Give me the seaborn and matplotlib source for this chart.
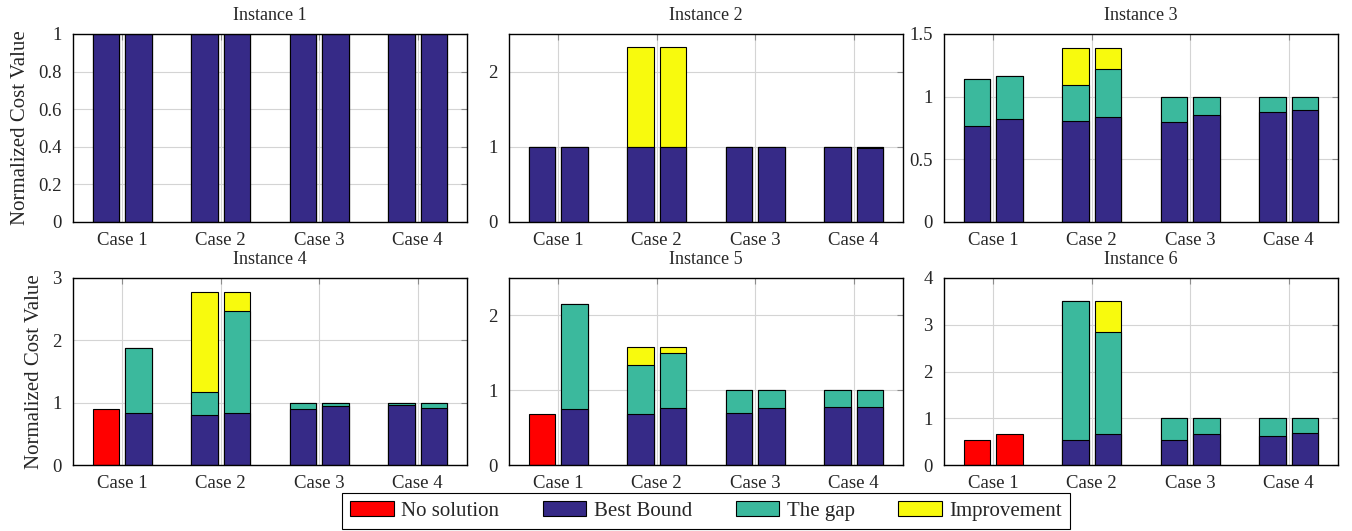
import numpy as np
import pandas as pd
import matplotlib
matplotlib.use("Agg")
import matplotlib.pyplot as plt
from matplotlib.patches import Patch
from matplotlib.ticker import FuncFormatter, MultipleLocator
import seaborn as sns

cases = ["Case 1", "Case 2", "Case 3", "Case 4"]
runs = ["first", "second"]
instances = ["Instance 1", "Instance 2", "Instance 3", "Instance 4", "Instance 5", "Instance 6"]

# one row per instance, values ordered case1/first, case1/second, case2/first, ...
no_solution = [
    [0, 0, 0, 0, 0, 0, 0, 0],
    [0, 0, 0, 0, 0, 0, 0, 0],
    [0, 0, 0, 0, 0, 0, 0, 0],
    [0.892, 0, 0, 0, 0, 0, 0, 0],
    [0.688, 0, 0, 0, 0, 0, 0, 0],
    [0.535, 0.663, 0, 0, 0, 0, 0, 0],
]
best_bound = [
    [1, 1, 1, 1, 1, 1, 1, 1],
    [1, 1, 1, 1, 1, 1, 1, 0.985],
    [0.767, 0.823, 0.803, 0.837, 0.80, 0.855, 0.877, 0.89],
    [0, 0.834, 0.807, 0.828, 0.904, 0.94, 0.968, 0.915],
    [0, 0.751, 0.684, 0.76, 0.693, 0.76, 0.773, 0.78],
    [0, 0, 0.535, 0.663, 0.535, 0.663, 0.62, 0.676],
]
the_gap = [
    [0, 0, 0, 0, 0, 0, 0, 0],
    [0, 0, 0, 0, 0, 0, 0, 0.015],
    [0.374, 0.344, 0.287, 0.381, 0.20, 0.145, 0.123, 0.11],
    [0, 1.044, 0.369, 1.649, 0.096, 0.06, 0.032, 0.085],
    [0, 1.40, 0.649, 0.733, 0.307, 0.24, 0.227, 0.22],
    [0, 0, 2.965, 2.182, 0.465, 0.337, 0.38, 0.324],
]
improvement = [
    [0, 0, 0, 0, 0, 0, 0, 0],
    [0, 0, 1.333, 1.333, 0, 0, 0, 0],
    [0, 0, 0.301, 0.173, 0, 0, 0, 0],
    [0, 0, 1.601, 0.30, 0, 0, 0, 0],
    [0, 0, 0.249, 0.089, 0, 0, 0, 0],
    [0, 0, 0, 0.655, 0, 0, 0, 0],
]

y_max = [1, 2.5, 1.5, 3, 2.5, 4]
y_step = [0.2, 1, 0.5, 1, 1, 1]

colors = {
    "No solution": "#ff0000",
    "Best Bound": "#362a87",
    "The gap": "#3bb99d",
    "Improvement": "#f8fa0d",
}

sns.set_theme(style="whitegrid")
plt.rcParams["font.family"] = ["Liberation Serif", "DejaVu Serif"]

fig, axes = plt.subplots(2, 3, figsize=(13.52, 5.31), dpi=100)
W, H = 1352, 531
lefts = [73, 509, 944]
rights = [467, 903, 1338]
tops = [34, 278]
bottoms = [222, 465]

for i, ax in enumerate(axes.flat):
    r, c = divmod(i, 3)
    ax.set_position([lefts[c] / W, 1 - bottoms[r] / H,
                     (rights[c] - lefts[c]) / W, (bottoms[r] - tops[r]) / H])

    df = pd.DataFrame({
        "case": np.repeat(cases, 2),
        "run": runs * 4,
        "ns": no_solution[i],
        "bb": best_bound[i],
        "gap": the_gap[i],
        "imp": improvement[i],
    })
    df["lvl_bb"] = df["bb"]
    df["lvl_gap"] = df["bb"] + df["gap"]
    df["lvl_imp"] = df["lvl_gap"] + df["imp"]

    # stacked look: draw the tallest layer first, then the lower ones over it
    layers = [("lvl_imp", "Improvement"), ("lvl_gap", "The gap"),
              ("lvl_bb", "Best Bound"), ("ns", "No solution")]
    for col, name in layers:
        sub = df[df[col] > 0]
        if sub.empty:
            continue
        sns.barplot(data=sub, x="case", y=col, hue="run", order=cases, hue_order=runs,
                    palette=[colors[name]] * 2, width=0.66, gap=0.18, dodge=True,
                    edgecolor="black", linewidth=0.8, saturation=1,
                    errorbar=None, legend=False, ax=ax)

    ax.set_xlim(-0.5, 3.5)
    ax.set_ylim(0, y_max[i])
    ax.yaxis.set_major_locator(MultipleLocator(y_step[i]))
    ax.yaxis.set_major_formatter(FuncFormatter(lambda v, p: f"{v:g}"))
    ax.grid(True, axis="both", color="#d4d4d4", linewidth=0.8)
    ax.set_axisbelow(True)
    for sp in ax.spines.values():
        sp.set_color("black")
        sp.set_linewidth(1.0)
    ax.tick_params(direction="in", length=4, width=0.8, color="0.55",
                   top=True, right=True, labelsize=13.5)
    ax.tick_params(axis="x", pad=7)
    ax.tick_params(axis="y", pad=8)
    ax.set_title(instances[i], fontsize=13, pad=10)
    ax.set_xlabel("")
    ax.set_ylabel("Normalized Cost Value" if c == 0 else "", fontsize=15, labelpad=6)

handles = [Patch(facecolor=colors[k], edgecolor="black", linewidth=0.8) for k in colors]
leg = fig.legend(handles, list(colors.keys()), loc="upper center",
                 bbox_to_anchor=(706 / W, 1 - 493 / H), ncol=4, fontsize=15,
                 frameon=True, fancybox=False, edgecolor="black", framealpha=1,
                 handlelength=2.1, handleheight=0.7, handletextpad=0.35,
                 columnspacing=2.1, borderpad=0.4, borderaxespad=0)
leg.get_frame().set_linewidth(0.8)

fig.savefig("out.png", dpi=100)
